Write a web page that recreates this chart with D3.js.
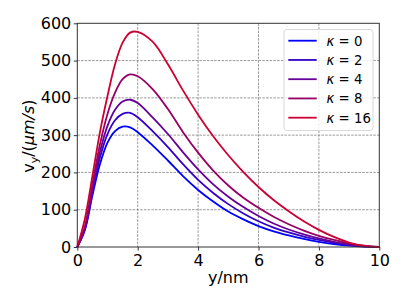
<!DOCTYPE html>
<html>
<head>
<meta charset="utf-8">
<script src="https://cdn.jsdelivr.net/npm/d3@7"></script>
<style>
  body { margin: 0; background: #fff; }
  text { font-family: "DejaVu Sans", sans-serif; fill: #000; }
</style>
</head>
<body>
<div id="chart"></div>
<script>
// data
var ys = [0, 0.25, 0.5, 0.75, 1, 1.25, 1.5, 1.75, 2, 2.5, 3, 3.5, 4, 4.5, 5, 5.5, 6, 6.5, 7, 7.5, 8, 8.5, 9, 9.5, 10];
var kappas = [0, 2, 4, 8, 16];
var v_k0  = [0, 45, 138, 222, 280, 311, 323, 321, 308, 272, 232, 190, 153, 122, 95, 74, 56, 42, 31, 21.5, 14, 8, 3.5, 1, 0];
var v_k2  = [0, 48, 148, 240, 303, 340, 357, 360, 348, 310, 268, 222, 180, 145, 115, 90, 69, 52, 39, 28, 19, 11.5, 5.5, 1.5, 0];
var v_k4  = [0, 50, 156, 255, 325, 368, 390, 395, 386, 347, 303, 254, 208, 168, 135, 107, 83, 63, 47, 34, 23, 14, 7, 2, 0];
var v_k8  = [0, 55, 168, 275, 357, 414, 450, 463, 458, 423, 370, 308, 253, 205, 165, 132, 105, 81, 61, 44, 30, 19, 10, 3.5, 0];
var v_k16 = [0, 75, 190, 308, 405, 490, 548, 575, 577, 550, 490, 420, 355, 297, 246, 201, 161, 126, 96, 69, 46, 27, 12, 3, 0];
var colors = ['#0000ff', '#3300cc', '#660099', '#990066', '#cc0033'];
var xTicks = [0, 2, 4, 6, 8, 10];
var yTicks = [0, 100, 200, 300, 400, 500, 600];

var series = [v_k0, v_k2, v_k4, v_k8, v_k16];

var W = 407, H = 305;
var margin = {left: 77.3, right: 27.7, top: 23.3, bottom: 58};
var width = W - margin.left - margin.right;
var height = H - margin.top - margin.bottom;

var svg = d3.select('#chart').append('svg')
    .attr('width', W)
    .attr('height', H);

var x = d3.scaleLinear().domain([0, 10]).range([0, width]);
var y = d3.scaleLinear().domain([0, 600]).range([height, 0]);

var g = svg.append('g')
    .attr('transform', 'translate(' + margin.left + ',' + margin.top + ')');

// grid
g.append('g').selectAll('line')
    .data(xTicks.slice(1, -1))
    .enter().append('line')
    .attr('x1', function(d) { return x(d); })
    .attr('x2', function(d) { return x(d); })
    .attr('y1', 0).attr('y2', height)
    .attr('stroke', '#808080').attr('stroke-width', 0.8)
    .attr('stroke-dasharray', '2.5,1.2');
g.append('g').selectAll('line')
    .data(yTicks.slice(1, -1))
    .enter().append('line')
    .attr('y1', function(d) { return y(d); })
    .attr('y2', function(d) { return y(d); })
    .attr('x1', 0).attr('x2', width)
    .attr('stroke', '#808080').attr('stroke-width', 0.8)
    .attr('stroke-dasharray', '2.5,1.2');

// curves
var line = d3.line()
    .x(function(d, i) { return x(ys[i]); })
    .y(function(d) { return y(d); })
    .curve(d3.curveCatmullRom.alpha(0.5));

g.append('g').selectAll('path')
    .data(series)
    .enter().append('path')
    .attr('d', line)
    .attr('fill', 'none')
    .attr('stroke', function(d, i) { return colors[i]; })
    .attr('stroke-width', 1.8);

// frame
g.append('rect')
    .attr('width', width).attr('height', height)
    .attr('fill', 'none').attr('stroke', '#333').attr('stroke-width', 1);

// axes
var xAxis = d3.axisBottom(x).tickValues(xTicks).tickSize(3.5).tickPadding(4.5);
var yAxis = d3.axisLeft(y).tickValues(yTicks).tickSize(3.5).tickPadding(2.5);

var gx = g.append('g').attr('transform', 'translate(0,' + height + ')').call(xAxis);
var gy = g.append('g').call(yAxis);
[gx, gy].forEach(function(a) {
    a.select('.domain').remove();
    a.selectAll('line').attr('stroke', '#333');
    a.selectAll('text').style('font-size', '16px').style('font-family', '"DejaVu Sans", sans-serif');
});

// axis labels
svg.append('text')
    .attr('x', margin.left + width / 2)
    .attr('y', 283)
    .attr('text-anchor', 'middle')
    .style('font-size', '16px')
    .text('y/nm');

var yl = svg.append('text')
    .attr('transform', 'translate(34,' + (margin.top + height / 2 + 1) + ') rotate(-90)')
    .attr('text-anchor', 'middle')
    .style('font-size', '16px');
yl.append('tspan').text('v');
yl.append('tspan').attr('dy', 4).style('font-size', '11px').text('y');
yl.append('tspan').attr('dy', -4).text('/(');
yl.append('tspan').style('font-style', 'italic').text('μm/s');
yl.append('tspan').text(')');

// legend
var legend = svg.append('g').attr('transform', 'translate(284,29.5)');
legend.append('rect')
    .attr('width', 89).attr('height', 101)
    .attr('rx', 3)
    .attr('fill', '#fff').attr('fill-opacity', 0.8)
    .attr('stroke', '#d8d8d8').attr('stroke-width', 1);

var items = legend.selectAll('g')
    .data(kappas)
    .enter().append('g')
    .attr('transform', function(d, i) { return 'translate(0,' + (11.2 + i * 19.25) + ')'; });
items.append('line')
    .attr('x1', 4.3).attr('x2', 32.7)
    .attr('stroke', function(d, i) { return colors[i]; })
    .attr('stroke-width', 1.8);
var lt = items.append('text')
    .attr('x', 42.5).attr('y', 4.8)
    .style('font-size', '13.3px');
lt.append('tspan').style('font-style', 'italic').text('κ');
lt.append('tspan').text(function(d) { return ' = ' + d; });
</script>
</body>
</html>
